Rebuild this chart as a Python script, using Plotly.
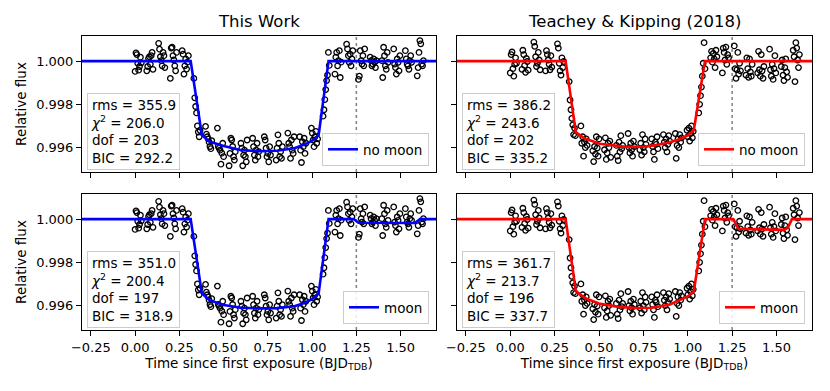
import plotly.graph_objects as go
from plotly.subplots import make_subplots

# exposure times (days since first exposure), 25 HST orbits x 8 exposures
time = [
    0.000, 0.005, 0.010, 0.015, 0.020, 0.025, 0.030, 0.035,
    0.066, 0.071, 0.076, 0.081, 0.086, 0.091, 0.096, 0.101,
    0.133, 0.138, 0.143, 0.148, 0.153, 0.158, 0.163, 0.168,
    0.199, 0.204, 0.209, 0.214, 0.219, 0.224, 0.229, 0.234,
    0.266, 0.271, 0.276, 0.281, 0.286, 0.291, 0.296, 0.301,
    0.332, 0.337, 0.342, 0.347, 0.352, 0.357, 0.362, 0.367,
    0.398, 0.403, 0.408, 0.413, 0.418, 0.423, 0.428, 0.433,
    0.465, 0.470, 0.475, 0.480, 0.485, 0.490, 0.495, 0.500,
    0.531, 0.536, 0.541, 0.546, 0.551, 0.556, 0.561, 0.566,
    0.598, 0.603, 0.608, 0.613, 0.618, 0.623, 0.628, 0.633,
    0.664, 0.669, 0.674, 0.679, 0.684, 0.689, 0.694, 0.699,
    0.730, 0.735, 0.740, 0.745, 0.750, 0.755, 0.760, 0.765,
    0.797, 0.802, 0.807, 0.812, 0.817, 0.822, 0.827, 0.832,
    0.863, 0.868, 0.873, 0.878, 0.883, 0.888, 0.893, 0.898,
    0.930, 0.935, 0.940, 0.945, 0.950, 0.955, 0.960, 0.965,
    0.996, 1.001, 1.006, 1.011, 1.016, 1.021, 1.026, 1.031,
    1.062, 1.067, 1.072, 1.077, 1.082, 1.087, 1.092, 1.097,
    1.129, 1.134, 1.139, 1.144, 1.149, 1.154, 1.159, 1.164,
    1.195, 1.200, 1.205, 1.210, 1.215, 1.220, 1.225, 1.230,
    1.262, 1.267, 1.272, 1.277, 1.282, 1.287, 1.292, 1.297,
    1.328, 1.333, 1.338, 1.343, 1.348, 1.353, 1.358, 1.363,
    1.394, 1.399, 1.404, 1.409, 1.414, 1.419, 1.424, 1.429,
    1.461, 1.466, 1.471, 1.476, 1.481, 1.486, 1.491, 1.496,
    1.527, 1.532, 1.537, 1.542, 1.547, 1.552, 1.557, 1.562,
    1.594, 1.599, 1.604, 1.609, 1.614, 1.619, 1.624, 1.629,
]

# detrended flux, this work
flux_tw = [
    0.99952, 1.00038, 1.00030, 0.99990, 0.99958, 0.99975, 1.00018, 0.99992,
    0.99955, 0.99975, 1.00012, 1.00020, 0.99985, 1.00025, 1.00040, 0.99962,
    1.00082, 1.00055, 1.00020, 1.00002, 0.99978, 1.00040, 1.00025, 0.99970,
    0.99920, 1.00060, 1.00064, 1.00025, 1.00005, 0.99978, 0.99955, 1.00040,
    1.00048, 1.00032, 0.99940, 0.99978, 1.00010, 0.99963, 0.99995, 1.00025,
    0.99920, 0.99830, 0.99790, 0.99760, 0.99700, 0.99672, 0.99650, 0.99680,
    0.99698, 0.99662, 0.99650, 0.99640, 0.99625, 0.99605, 0.99595, 0.99632,
    0.99690, 0.99605, 0.99597, 0.99588, 0.99523, 0.99574, 0.99620, 0.99558,
    0.99516, 0.99573, 0.99643, 0.99635, 0.99605, 0.99558, 0.99542, 0.99581,
    0.99620, 0.99597, 0.99516, 0.99565, 0.99588, 0.99558, 0.99534, 0.99635,
    0.99643, 0.99604, 0.99565, 0.99542, 0.99588, 0.99620, 0.99558, 0.99581,
    0.99650, 0.99635, 0.99597, 0.99558, 0.99573, 0.99534, 0.99604, 0.99565,
    0.99542, 0.99597, 0.99659, 0.99620, 0.99558, 0.99581, 0.99550, 0.99604,
    0.99667, 0.99620, 0.99604, 0.99550, 0.99635, 0.99588, 0.99573, 0.99650,
    0.99650, 0.99588, 0.99531, 0.99627, 0.99604, 0.99643, 0.99573, 0.99620,
    0.99690, 0.99667, 0.99635, 0.99604, 0.99650, 0.99675, 0.99620, 0.99640,
    0.99745, 0.99775, 0.99822, 0.99868, 0.99910, 0.99935, 1.00040, 0.99980,
    0.99940, 1.00018, 1.00040, 0.99978, 1.00002, 1.00048, 0.99924, 0.99995,
    1.00078, 1.00056, 1.00025, 0.99994, 1.00032, 0.99978, 1.00010, 1.00048,
    0.99915, 0.99930, 1.00048, 1.00002, 0.99986, 1.00025, 0.99978, 1.00056,
    1.00018, 1.00002, 0.99978, 0.99986, 1.00010, 0.99994, 0.99970, 1.00002,
    1.00002, 0.99924, 1.00064, 1.00025, 0.99978, 0.99962, 1.00040, 0.99994,
    1.00056, 0.99986, 0.99970, 0.99940, 1.00010, 0.99994, 0.99955, 1.00025,
    1.00048, 1.00010, 0.99986, 0.99978, 0.99962, 1.00002, 1.00025, 0.99994,
    0.99932, 0.99970, 1.00040, 1.00095, 1.00080, 0.99986, 0.99978, 1.00002,
]

# detrended flux, Teachey & Kipping (2018)
flux_tk = [
    0.99945, 1.00030, 1.00042, 0.99965, 0.99930, 0.99985, 1.00015, 0.99990,
    0.99962, 1.00050, 1.00030, 0.99980, 0.99948, 1.00012, 0.99998, 0.99958,
    1.00088, 1.00068, 1.00020, 0.99975, 0.99990, 1.00040, 1.00005, 0.99960,
    0.99955, 1.00048, 1.00030, 1.00005, 0.99985, 0.99960, 1.00025, 0.99972,
    1.00080, 1.00060, 0.99990, 0.99955, 0.99935, 1.00015, 0.99970, 0.99998,
    0.99905, 0.99820, 0.99775, 0.99735, 0.99705, 0.99660, 0.99690, 0.99655,
    0.99700, 0.99620, 0.99650, 0.99560, 0.99625, 0.99600, 0.99640, 0.99610,
    0.99585, 0.99535, 0.99605, 0.99570, 0.99650, 0.99598, 0.99560, 0.99640,
    0.99590, 0.99645, 0.99545, 0.99575, 0.99620, 0.99600, 0.99630, 0.99555,
    0.99610, 0.99560, 0.99540, 0.99625, 0.99580, 0.99655, 0.99595, 0.99610,
    0.99665, 0.99600, 0.99575, 0.99620, 0.99590, 0.99560, 0.99630, 0.99605,
    0.99590, 0.99620, 0.99565, 0.99660, 0.99600, 0.99580, 0.99640, 0.99615,
    0.99640, 0.99605, 0.99580, 0.99545, 0.99625, 0.99615, 0.99650, 0.99595,
    0.99660, 0.99625, 0.99600, 0.99640, 0.99580, 0.99615, 0.99655, 0.99630,
    0.99665, 0.99550, 0.99610, 0.99640, 0.99600, 0.99660, 0.99625, 0.99645,
    0.99680, 0.99650, 0.99690, 0.99630, 0.99665, 0.99700, 0.99645, 0.99675,
    0.99760, 0.99800, 0.99840, 0.99880, 0.99930, 0.99990, 1.00085, 0.99965,
    1.00015, 1.00045, 0.99995, 1.00035, 1.00010, 0.99970, 1.00050, 1.00020,
    0.99945, 1.00060, 1.00040, 1.00005, 1.00065, 0.99985, 1.00030, 1.00015,
    1.00070, 0.99965, 0.99920, 0.99960, 1.00040, 0.99940, 0.99990, 0.99955,
    0.99935, 1.00015, 0.99965, 0.99925, 1.00010, 0.99950, 0.99930, 0.99985,
    0.99945, 1.00045, 0.99960, 0.99930, 1.00030, 0.99955, 0.99920, 0.99975,
    1.00055, 0.99960, 0.99930, 0.99985, 0.99915, 0.99965, 1.00025, 0.99945,
    0.99975, 1.00005, 0.99935, 0.99910, 0.99970, 1.00010, 0.99950, 0.99925,
    1.00050, 1.00020, 0.99905, 1.00085, 1.00060, 1.00005, 0.99970, 1.00030,
]

# best-fit models
tw_nomoon_t = [-0.30, 0.314, 0.377, 0.42, 0.50, 0.60, 0.70, 0.80, 0.90, 0.96, 1.00, 1.037, 1.093, 1.70]
tw_nomoon_f = [1.0, 1.0, 0.99658, 0.99628, 0.99607, 0.99588, 0.99583, 0.99585, 0.99597, 0.99615, 0.99632, 0.99658, 1.0, 1.0]

tk_nomoon_t = [-0.30, 0.312, 0.369, 0.42, 0.505, 0.60, 0.655, 0.75, 0.81, 0.90, 0.96, 1.00, 1.034, 1.097, 1.70]
tk_nomoon_f = [1.0, 1.0, 0.99672, 0.99642, 0.99618, 0.99607, 0.99603, 0.99604, 0.99610, 0.99625, 0.99641, 0.99656, 0.99680, 1.0, 1.0]

tw_moon_t = [-0.30, 0.314, 0.377, 0.42, 0.50, 0.60, 0.70, 0.80, 0.90, 0.96, 1.00, 1.037, 1.093, 1.235, 1.262, 1.58, 1.61, 1.70]
tw_moon_f = [1.0, 1.0, 0.99656, 0.99625, 0.99603, 0.99590, 0.99587, 0.99588, 0.99597, 0.99613, 0.99630, 0.99656, 1.0, 1.0, 0.99983, 0.99982, 1.0, 1.0]

tk_moon_t = [-0.30, 0.312, 0.369, 0.42, 0.50, 0.60, 0.70, 0.80, 0.90, 0.96, 1.00, 1.034, 1.097, 1.257, 1.285, 1.545, 1.565, 1.587, 1.70]
tk_moon_f = [1.0, 1.0, 0.99668, 0.99635, 0.99610, 0.99595, 0.99589, 0.99590, 0.99605, 0.99625, 0.99642, 0.99665, 1.0, 1.0, 0.99955, 0.99950, 0.99962, 1.0, 1.0]

# fit statistics: [top-left, top-right, bottom-left, bottom-right]
rms_vals = ["355.9", "386.2", "351.0", "361.7"]
chi2_vals = ["206.0", "243.6", "200.4", "213.7"]
dof_vals = ["203", "202", "197", "196"]
bic_vals = ["292.2", "335.2", "318.9", "337.7"]

col_titles = ["This Work", "Teachey & Kipping (2018)"]
x_ticks = [-0.25, 0.0, 0.25, 0.5, 0.75, 1.0, 1.25, 1.5]
y_ticks = [0.996, 0.998, 1.000]

FONT = "DejaVu Sans"
W, H = 830, 391

fig = make_subplots(rows=2, cols=2)

panels = [
    (1, 1, flux_tw, tw_nomoon_t, tw_nomoon_f, "blue", "no moon"),
    (1, 2, flux_tk, tk_nomoon_t, tk_nomoon_f, "red", "no moon"),
    (2, 1, flux_tw, tw_moon_t, tw_moon_f, "blue", "moon"),
    (2, 2, flux_tk, tk_moon_t, tk_moon_f, "red", "moon"),
]

# panel boxes in pixels: (left, right, top, bottom)
xdom = [(82, 436), (457, 812)]
ydom = [(36, 172), (194, 330)]

for i, (r, c, fl, mt, mf, colr, lab) in enumerate(panels):
    leg = "legend" if i == 0 else "legend%d" % (i + 1)
    fig.add_trace(go.Scatter(
        x=time, y=fl, mode="markers", showlegend=False,
        marker=dict(symbol="circle-open", size=5.5, color="black",
                    line=dict(width=1.3, color="black")),
    ), row=r, col=c)
    fig.add_trace(go.Scatter(
        x=mt, y=mf, mode="lines", name=lab, legend=leg,
        line=dict(color=colr, width=2.6),
    ), row=r, col=c)
    fig.add_vline(x=1.25, line=dict(color="gray", width=1.5, dash="dot"),
                  layer="below", row=r, col=c)

    ax = "" if i == 0 else str(i + 1)
    l, rr = xdom[c - 1]
    t, b = ydom[r - 1]
    fig.update_xaxes(
        domain=[l / W, rr / W], range=[-0.3, 1.7],
        tickvals=x_ticks, tickformat=".2f", showticklabels=(r == 2),
        title_text="Time since first exposure (BJD<sub>TDB</sub>)" if r == 2 else None,
        title_font=dict(size=13.5), title_standoff=4,
        ticks="outside", ticklen=5, tickcolor="black", tickfont=dict(size=13),
        showline=True, mirror=True, linecolor="black", linewidth=1,
        showgrid=False, zeroline=False, automargin=False,
        row=r, col=c)
    fig.update_yaxes(
        domain=[1 - b / H, 1 - t / H], range=[0.99487, 1.00116],
        tickvals=y_ticks, tickformat=".3f", showticklabels=(c == 1),
        title_text="Relative flux" if c == 1 else None,
        title_font=dict(size=13.5), title_standoff=6,
        ticks="outside", ticklen=5, tickcolor="black", tickfont=dict(size=13),
        showline=True, mirror=True, linecolor="black", linewidth=1,
        showgrid=False, zeroline=False, automargin=False,
        row=r, col=c)

    stat_text = "<br>".join([
        "rms = " + rms_vals[i],
        "<i>χ</i><sup>2</sup> = " + chi2_vals[i],
        "dof = " + dof_vals[i],
        "BIC = " + bic_vals[i],
    ])
    fig.add_annotation(
        xref="x%s domain" % ax, yref="y%s domain" % ax, x=0.014, y=0.012,
        xanchor="left", yanchor="bottom", text=stat_text, showarrow=False,
        align="left", font=dict(size=13.5, color="black"),
        bgcolor="rgba(255,255,255,0.85)", bordercolor="#cccccc",
        borderwidth=1, borderpad=3)

    fig.update_layout({leg: dict(
        x=(rr - 7) / W, y=1 - (b - 6) / H, xanchor="right", yanchor="bottom",
        bgcolor="rgba(255,255,255,0.85)", bordercolor="#cccccc", borderwidth=1,
        font=dict(size=13.5, color="black"), itemwidth=30,
    )})

for c, title in enumerate(col_titles):
    l, rr = xdom[c]
    fig.add_annotation(xref="paper", yref="paper", x=(l + rr) / 2 / W, y=1 - 22 / H,
                       text=title, showarrow=False, xanchor="center", yanchor="middle",
                       font=dict(size=16.5, color="black"))

fig.update_layout(
    width=W, height=H, margin=dict(l=0, r=0, t=0, b=0),
    paper_bgcolor="white", plot_bgcolor="white",
    font=dict(family=FONT, color="black"),
)

# drop the default page margin so the figure sits at the window origin
fig.write_html("out.html", config={"displayModeBar": False},
               post_script="document.body.style.margin='0px';")
